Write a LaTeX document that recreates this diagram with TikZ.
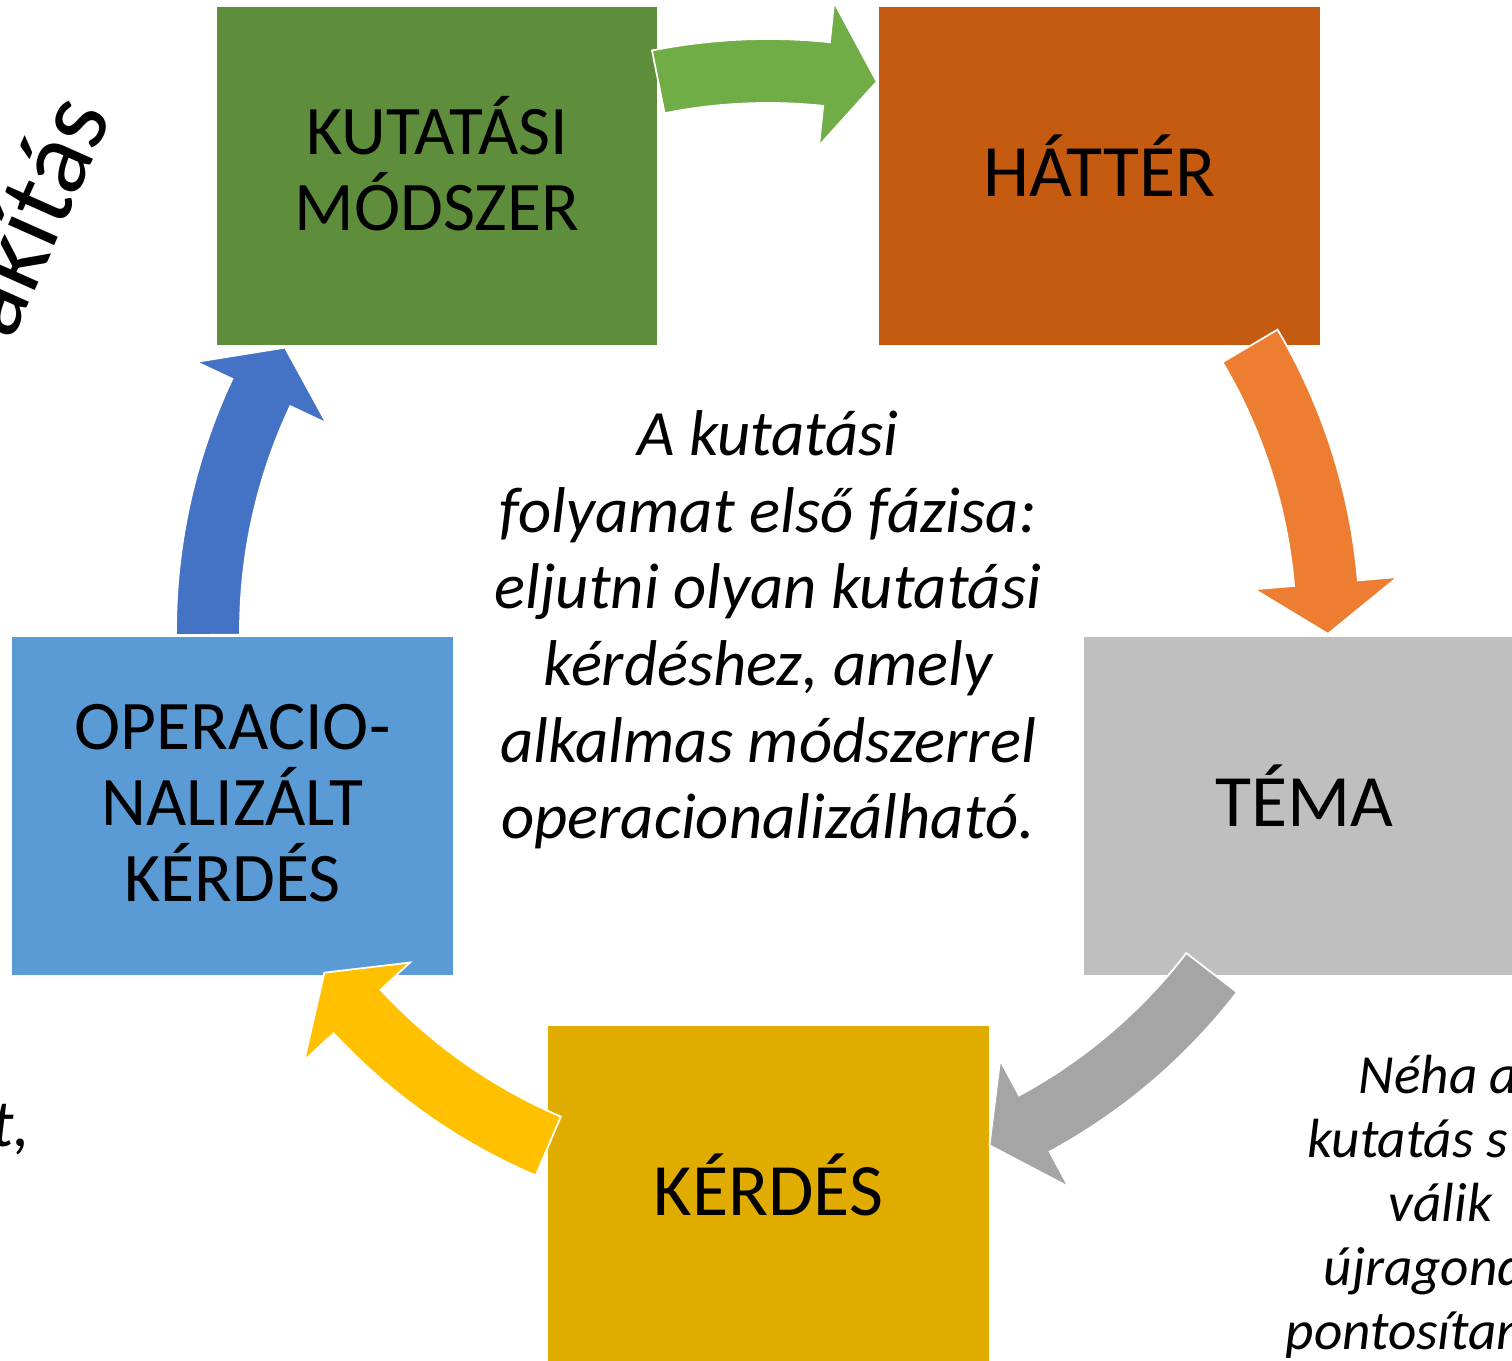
\documentclass[tikz,border=0pt]{standalone}
\usepackage{fontspec}
\setmainfont{Carlito}
\usetikzlibrary{calc}
\definecolor{zold}{HTML}{5E8E3B}
\definecolor{barna}{HTML}{C55A11}
\definecolor{szurke}{HTML}{BFBFBF}
\definecolor{sarga}{HTML}{E0AC00}
\definecolor{kek}{HTML}{5B9BD5}
\definecolor{nyilzold}{HTML}{70AD47}
\definecolor{nyilnarancs}{HTML}{ED7D31}
\definecolor{nyilszurke}{HTML}{A5A5A5}
\definecolor{nyilsarga}{HTML}{FFC000}
\definecolor{nyilkek}{HTML}{4472C4}
\begin{document}
\begin{tikzpicture}[x=0.01cm,y=0.01cm,line join=miter,
    doboz/.style={minimum width=4.4cm,minimum height=3.38cm,inner sep=0pt},
    felirat/.style={inner sep=0pt,align=center,font=\fontsize{19.8}{21.5}\selectfont},
    nagydoboz/.style={doboz,text height=16.4pt,text depth=5pt,font=\fontsize{21}{24}\selectfont},
    nyil/.style={draw=white,line width=0.5pt},
    megj/.style={inner sep=0pt,font=\fontsize{15.7}{18}\selectfont\itshape}]
    % korivek: farok, csucs alapja, csucs (fok)
    \def\kornyil#1#2#3#4{\filldraw[nyil,fill=#1] ($(kp)+(#2:528)$) arc[start angle=#2,end angle=#3,radius=528]
        -- ($(kp)+(#3:488)$) -- ($(kp)+(#4:560)$) -- ($(kp)+(#3:632)$) -- ($(kp)+(#3:592)$)
        arc[start angle=#3,end angle=#2,radius=592] -- cycle;}
    \useasboundingbox (0,0) rectangle (1512,1361);
    \clip (0,0) rectangle (1512,1361);
    \coordinate (kp) at (768,730);
    \node[doboz,fill=zold] (modszer) at (437,1185) {};
    \node[felirat] (modszertxt) at ([yshift=0.12cm]modszer.center) {KUTATÁSI\\MÓDSZER};
    \node[nagydoboz,fill=barna] (hatter) at (1099.5,1185) {HÁTTÉR};
    \node[nagydoboz,fill=szurke] (tema) at (1304,555) {TÉMA};
    \node[nagydoboz,fill=sarga] (kerdes) at (768.5,166) {KÉRDÉS};
    \node[doboz,fill=kek] (operac) at (232.5,555) {};
    \node[felirat,font=\fontsize{19.8}{21.6}\selectfont] (operactxt) at ([yshift=0.03cm]operac.center) {OPERACIO-\\NALIZÁLT\\KÉRDÉS};
    \kornyil{nyilzold}{101.3}{84}{78.8}
    \kornyil{nyilnarancs}{30.6}{4.9}{-0.3}
    \kornyil{nyilszurke}{-37.6}{-61.6}{-66.7}
    \kornyil{nyilsarga}{-113.1}{-137.2}{-142.4}
    \kornyil{nyilkek}{180.4}{154.8}{149.6}
    \node[inner sep=0pt,align=center,font=\fontsize{18.4}{21.8}\selectfont\itshape] (fazis) at (768,731)
        {A kutatási\\folyamat első fázisa:\\eljutni olyan kutatási\\kérdéshez, amely\\alkalmas módszerrel\\operacionalizálható.};
    \node[inner sep=0pt,rotate=66,anchor=base east,font=\fontsize{30}{32}\selectfont] (alakitas) at (113,1246) {akítás};
    \node[megj,anchor=base east,font=\fontsize{19}{22}\selectfont\itshape] (bal) at (31,214) {t,};
    \foreach \x/\y/\t [count=\i] in {1358/267/Néha a,1307/203/kutatás s,1388/139/válik,1323/75/újragond,1285/11/pontosítan}
        \node[megj,anchor=base west] (neha\i) at (\x,\y) {\t};
\end{tikzpicture}
\end{document}
